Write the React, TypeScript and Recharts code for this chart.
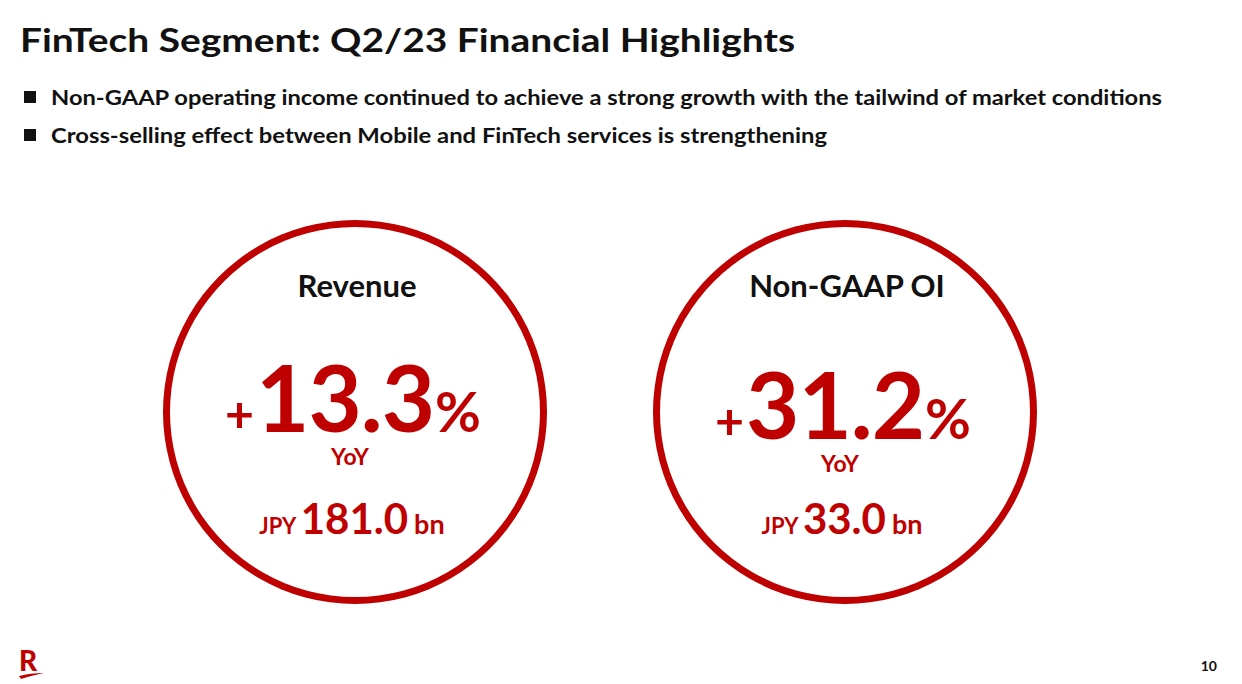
import React from 'react';
import { PieChart, Pie, Cell, Customized } from 'recharts';

const TITLE = 'FinTech Segment: Q2/23 Financial Highlights';
const BULLETS = [
  'Non-GAAP operating income continued to achieve a strong growth with the tailwind of market conditions',
  'Cross-selling effect between Mobile and FinTech services is strengthening',
];
const METRICS = ['Revenue', 'Non-GAAP OI'];
const GROWTH = ['13.3', '31.2'];
const AMOUNTS = ['181.0', '33.0'];
const RING = [{ name: 'ring', value: 1 }];
const PAGE = '10';

const RED = '#bf0000';
const FONT = 'Lato, "Open Sans", sans-serif';
const CENTERS = [355, 845];
const CY = 412;

const Texts = () => (
  <g fontFamily={FONT}>
    <text x={20} y={52} fontSize={33} fontWeight={700} fill="#111" textLength={775} lengthAdjust="spacingAndGlyphs">
      {TITLE}
    </text>
    {BULLETS.map((b, i) => (
      <g key={b}>
        <rect x={24} y={91 + i * 38} width={12} height={12} fill="#111" />
        <text
          x={51}
          y={105 + i * 38}
          fontSize={20}
          fontWeight={700}
          fill="#111"
          textLength={i === 0 ? 1111 : 776}
          lengthAdjust="spacingAndGlyphs"
        >
          {b}
        </text>
      </g>
    ))}
    {METRICS.map((m, i) => {
      const cx = CENTERS[i];
      const dy = i === 0 ? 0 : 7;
      return (
        <g key={m}>
          <text x={cx + 2} y={297} textAnchor="middle" fontSize={31} fontWeight={700} fill="#111">
            {m}
          </text>
          <text x={cx - 2} y={432 + dy} textAnchor="middle" fill={RED} fontWeight={700}>
            <tspan fontSize={50}>+</tspan>
            <tspan fontSize={92} dx={2} letterSpacing={-1}>{GROWTH[i]}</tspan>
            <tspan fontSize={56} dx={1}>%</tspan>
          </text>
          <text x={cx - 5} y={465 + dy} textAnchor="middle" fontSize={23} fontWeight={700} fill={RED}>
            YoY
          </text>
          <text x={cx - 3} y={534} textAnchor="middle" fill={RED} fontWeight={700}>
            <tspan fontSize={22}>JPY </tspan>
            <tspan fontSize={42}>{AMOUNTS[i]}</tspan>
            <tspan fontSize={27} dx={6}>bn</tspan>
          </text>
        </g>
      );
    })}
    <text x={19} y={671} fontSize={28} fontWeight={900} fill={RED}>
      R
    </text>
    <path d="M19 676 Q30 673 44 673 Q30 676 21 679 Z" fill={RED} />
    <text x={1217} y={671} textAnchor="end" fontSize={14} fontWeight={700} fill="#111">
      {PAGE}
    </text>
  </g>
);

export default function App() {
  return (
    <div style={{ position: 'absolute', left: 0, top: 0, width: 1242, height: 684, background: '#fff' }}>
      <PieChart width={1242} height={684} margin={{ top: 0, right: 0, bottom: 0, left: 0 }}>
        {CENTERS.map((cx, i) => (
          <Pie
            key={METRICS[i]}
            data={RING}
            dataKey="value"
            cx={cx}
            cy={CY}
            innerRadius={185}
            outerRadius={192}
            startAngle={90}
            endAngle={-270}
            stroke="none"
            isAnimationActive={false}
          >
            <Cell fill={RED} />
          </Pie>
        ))}
        <Customized component={Texts} />
      </PieChart>
    </div>
  );
}
